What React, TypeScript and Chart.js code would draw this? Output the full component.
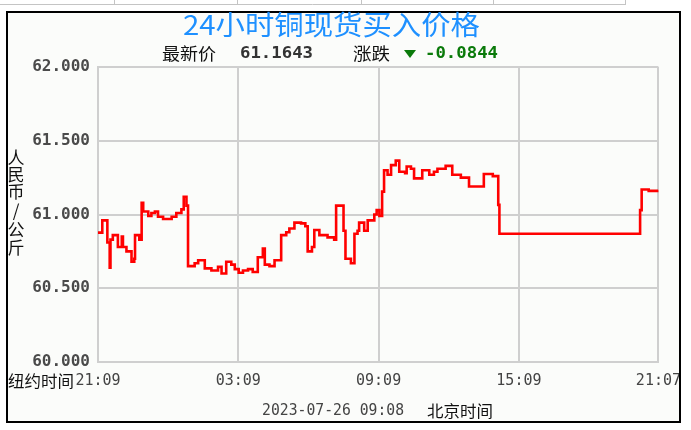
import React, { useEffect, useRef } from "react";
import { Chart, registerables } from "chart.js";

Chart.register(...registerables);

// minutes since 21:09 (New York time axis)
const minutes = [
  0, 11, 24, 30, 32, 38, 51, 61, 64, 73,
  86, 93, 95, 106, 112, 116, 129, 137, 146, 154,
  167, 189, 201, 214, 220, 227, 231, 248, 257, 274,
  291, 308, 317, 329, 342, 351, 361, 372, 385, 397,
  410, 423, 428, 440, 453, 470, 483, 491, 504, 521,
  532, 538, 549, 555, 568, 589, 606, 611, 630, 635,
  649, 658, 666, 670, 683, 692, 709, 715, 722, 729,
  734, 743, 752, 764, 773, 788, 792, 803, 811, 832,
  850, 862, 871, 892, 909, 931, 952, 990, 1013, 1027,
  1030, 1391, 1395, 1413, 1438,
];
const prices = [
  60.877, 60.96, 60.81, 60.64, 60.83, 60.86, 60.78, 60.85, 60.78, 60.75,
  60.68, 60.7, 60.86, 60.83, 61.08, 61.02, 60.99, 61.01, 61.02, 60.985,
  60.97, 60.985, 61.01, 61.035, 61.12, 61.06, 60.65, 60.67, 60.69, 60.635,
  60.62, 60.645, 60.6, 60.68, 60.66, 60.63, 60.605, 60.62, 60.63, 60.61,
  60.71, 60.77, 60.66, 60.65, 60.69, 60.86, 60.88, 60.905, 60.945, 60.94,
  60.92, 60.75, 60.78, 60.895, 60.86, 60.845, 60.83, 61.06, 60.89, 60.7,
  60.67, 60.87, 60.89, 60.945, 60.89, 60.96, 61.0, 61.03, 60.99, 61.155,
  61.3, 61.27, 61.335, 61.365, 61.29, 61.28, 61.325, 61.31, 61.245, 61.3,
  61.27, 61.29, 61.31, 61.33, 61.27, 61.25, 61.19, 61.275, 61.26, 61.065,
  60.87, 61.03, 61.17, 61.16, 61.1643,
];
const xTickValues = [0, 360, 720, 1080, 1438];
const xTickLabels = ["21:09", "03:09", "09:09", "15:09", "21:07"];
const yMin = 60;
const yMax = 62;
const yStep = 0.5;

const titleText = "24小时铜现货买入价格";
const latestLabel = "最新价";
const latestValue = "61.1643";
const changeLabel = "涨跌";
const changeValue = "-0.0844";
const yAxisTitle = "人民币/公斤";
const xAxisLeftLabel = "纽约时间";
const timestampText = "2023-07-26 09:08";
const timezoneText = "北京时间";

const CJK = '"Noto Sans CJK SC", sans-serif';
const MONO = '"DejaVu Sans Mono", monospace';

function fitText(
  ctx: CanvasRenderingContext2D,
  text: string,
  x: number,
  y: number,
  w: number,
  font: string,
  color: string
) {
  ctx.save();
  ctx.font = font;
  ctx.fillStyle = color;
  ctx.textBaseline = "middle";
  ctx.textAlign = "left";
  const m = ctx.measureText(text).width;
  const s = w / m;
  ctx.translate(x, y);
  ctx.scale(s, 1);
  ctx.fillText(text, 0, 0);
  ctx.restore();
}

const decorPlugin = {
  id: "decor",
  beforeDraw(chart: any) {
    const ctx: CanvasRenderingContext2D = chart.ctx;
    ctx.save();
    ctx.fillStyle = "#ffffff";
    ctx.fillRect(0, 0, chart.width, chart.height);
    ctx.fillStyle = "#fbfcfa";
    ctx.fillRect(7, 12, 673, 410);
    // strip of page above
    ctx.strokeStyle = "#c4c4c4";
    ctx.lineWidth = 1;
    ctx.beginPath();
    ctx.moveTo(0, 4.5);
    ctx.lineTo(625, 4.5);
    [114, 237, 361, 493, 625].forEach((x) => {
      ctx.moveTo(x + 0.5, 0);
      ctx.lineTo(x + 0.5, 5);
    });
    ctx.stroke();
    ctx.restore();
  },
  afterDraw(chart: any) {
    const ctx: CanvasRenderingContext2D = chart.ctx;
    ctx.save();
    // cover overflow right of frame
    ctx.fillStyle = "#ffffff";
    ctx.fillRect(681, 0, chart.width - 681, chart.height);
    // frame
    ctx.strokeStyle = "#000000";
    ctx.lineWidth = 2;
    ctx.strokeRect(7, 12, 673, 410);

    // title
    fitText(ctx, titleText, 183, 25, 297, `27px ${CJK}`, "#1e90ff");
    // info line
    fitText(ctx, latestLabel, 162, 54, 54, `17px ${CJK}`, "#111111");
    fitText(ctx, latestValue, 240, 54, 73, `bold 16px ${MONO}`, "#333333");
    fitText(ctx, changeLabel, 353, 54, 37, `17px ${CJK}`, "#111111");
    ctx.fillStyle = "#0a7a0a";
    ctx.beginPath();
    ctx.moveTo(404, 50);
    ctx.lineTo(416, 50);
    ctx.lineTo(410, 58);
    ctx.closePath();
    ctx.fill();
    fitText(ctx, changeValue, 425, 54, 73, `bold 16px ${MONO}`, "#0a7a0a");

    // vertical y-axis title
    ctx.font = `17px ${CJK}`;
    ctx.fillStyle = "#111111";
    ctx.textAlign = "center";
    ctx.textBaseline = "middle";
    const ys = [158, 175, 192, 211, 230, 248];
    Array.from(yAxisTitle).forEach((ch, i) => {
      ctx.fillText(ch, 16, ys[i]);
    });

    fitText(ctx, xAxisLeftLabel, 8, 381, 66, `16px ${CJK}`, "#111111");
    fitText(ctx, timestampText, 262, 411, 142, `15px ${MONO}`, "#444444");
    fitText(ctx, timezoneText, 427, 411, 66, `16px ${CJK}`, "#111111");
    ctx.restore();
  },
};

export default function App() {
  const ref = useRef<HTMLCanvasElement>(null);
  useEffect(() => {
    if (!ref.current) return;
    const data = minutes.map((m, i) => ({ x: m, y: prices[i] }));
    const chart = new Chart(ref.current, {
      type: "line",
      data: {
        datasets: [
          {
            data,
            borderColor: "#ff0000",
            borderWidth: 2.6,
            pointRadius: 0,
            stepped: true,
            fill: false,
          },
        ],
      },
      options: {
        animation: false,
        responsive: false,
        events: [],
        layout: { padding: { left: 0, top: 67, right: 31, bottom: 0 } },
        plugins: { legend: { display: false }, tooltip: { enabled: false } },
        scales: {
          x: {
            type: "linear",
            min: 0,
            max: 1438,
            afterBuildTicks: (scale: any) => {
              scale.ticks = xTickValues.map((v) => ({ value: v }));
            },
            afterFit: (scale: any) => {
              scale.height = 68;
            },
            grid: { color: "#cfcfcf", lineWidth: 2, drawTicks: false },
            border: { color: "#cfcfcf", width: 2 },
            ticks: {
              autoSkip: false,
              maxRotation: 0,
              padding: 10,
              color: "#444444",
              font: { family: MONO, size: 15 },
              callback: (v: any) => {
                const i = xTickValues.indexOf(Number(v));
                return i >= 0 ? xTickLabels[i] : "";
              },
            },
          },
          y: {
            min: yMin,
            max: yMax,
            afterFit: (scale: any) => {
              scale.width = 98;
            },
            grid: { color: "#cfcfcf", lineWidth: 2, drawTicks: false },
            border: { color: "#cfcfcf", width: 2 },
            ticks: {
              stepSize: yStep,
              padding: 8,
              color: "#4a4a4a",
              font: { family: MONO, size: 16, weight: "bold" },
              callback: (v: any) => Number(v).toFixed(3),
            },
          },
        },
      },
      plugins: [decorPlugin],
    });
    return () => chart.destroy();
  }, []);
  return (
    <div style={{ position: "absolute", left: 0, top: 0, width: 691, height: 430 }}>
      <canvas ref={ref} width={691} height={430} style={{ width: 691, height: 430 }} />
    </div>
  );
}
